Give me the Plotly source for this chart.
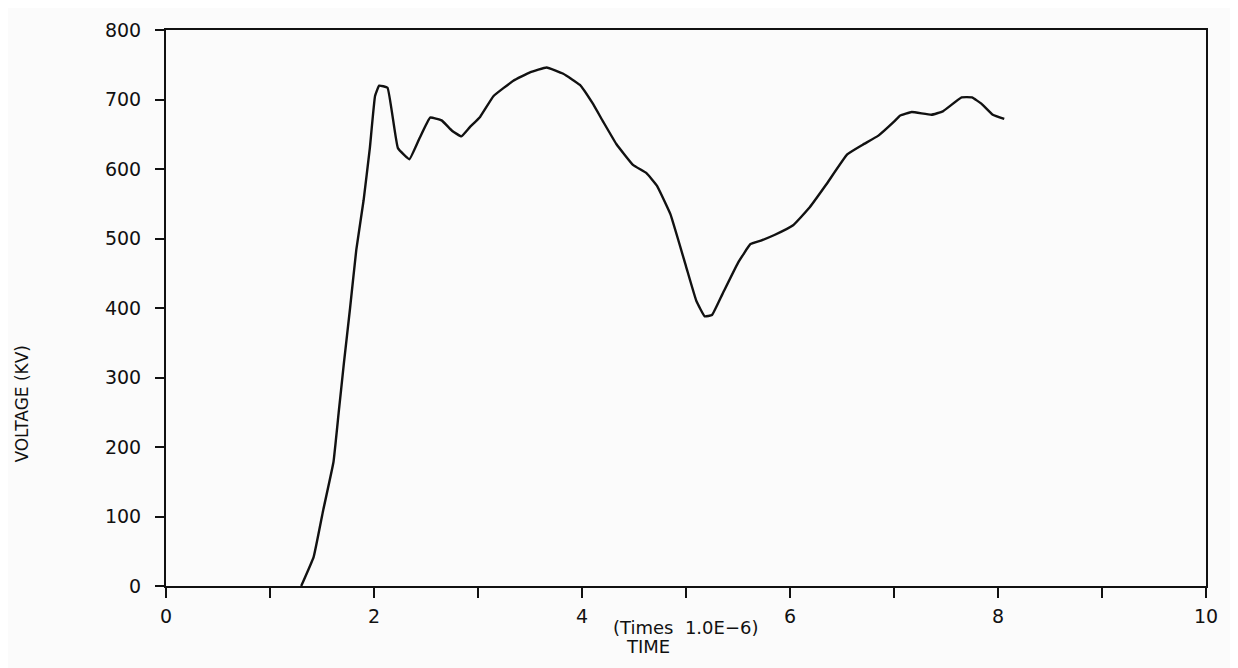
import plotly.graph_objects as go

# Time in units of 1.0E-6 s, voltage in kV
time_us = [1.30, 1.42, 1.51, 1.61, 1.66, 1.71, 1.77, 1.83, 1.90, 1.96, 2.01,
           2.05, 2.13, 2.23, 2.34, 2.44, 2.54, 2.65, 2.75, 2.84, 2.92, 3.02, 3.15,
           3.34, 3.50, 3.66, 3.82, 3.98, 4.10, 4.20, 4.33, 4.49, 4.62, 4.72, 4.85,
           5.00, 5.10, 5.18, 5.25, 5.35, 5.50, 5.62, 5.72, 5.85, 6.03, 6.19, 6.35,
           6.55, 6.70, 6.85, 7.00, 7.06, 7.17, 7.36, 7.47, 7.65, 7.75, 7.84, 7.95, 8.06]
voltage_kv = [0, 42, 108, 178, 249, 320, 400, 484, 555, 630, 705,
              720, 717, 630, 614, 645, 674, 670, 655, 647, 660, 675, 705,
              727, 739, 746, 737, 721, 695, 669, 636, 606, 594, 576, 535,
              460, 410, 388, 390, 420, 465, 492, 497, 505, 519, 545, 578,
              621, 635, 648, 668, 677, 682, 678, 683, 703, 703, 694, 678, 672]

x_tick_vals = [0, 1, 2, 3, 4, 5, 6, 7, 8, 9, 10]
x_tick_text = ["0", "", "2", "", "4", "", "6", "", "8", "", "10"]
y_tick_vals = [0, 100, 200, 300, 400, 500, 600, 700, 800]

font_family = "DejaVu Sans"
ink = "#111111"
paper = "#fbfbfb"

# page is offset by the 8px body margin; targets below are in page pixels
PL, PR, PT, PB = 166, 1206, 19, 586
OFF = 8
W, H = 1238, 668


def px_x(p):
    return (p - PL) / (PR - PL)


def px_y(q):
    return (PB - q) / (PB - PT)


fig = go.Figure()
fig.add_trace(go.Scatter(
    x=time_us, y=voltage_kv, mode="lines",
    line=dict(color=ink, width=2.4, shape="spline", smoothing=0.3),
    showlegend=False, hoverinfo="x+y",
))

fig.update_layout(
    width=W, height=H,
    margin=dict(l=PL - OFF, r=W - (PR - OFF), t=PT - OFF, b=H - (PB - OFF)),
    paper_bgcolor=paper, plot_bgcolor=paper,
    font=dict(family=font_family, size=19, color=ink),
    xaxis=dict(
        range=[0, 10], tickmode="array", tickvals=x_tick_vals, ticktext=x_tick_text,
        ticks="outside", ticklen=10, tickwidth=2, tickcolor=ink,
        showline=True, linecolor=ink, linewidth=2, mirror=True,
        showgrid=False, zeroline=False, ticklabelstandoff=2,
        tickfont=dict(family=font_family, size=19, color=ink),
    ),
    yaxis=dict(
        range=[0, 800], tickmode="array", tickvals=y_tick_vals,
        ticks="outside", ticklen=9, tickwidth=2, tickcolor=ink,
        showline=True, linecolor=ink, linewidth=2, mirror=True,
        showgrid=False, zeroline=False, ticklabelstandoff=10,
        ticklabeloverflow="allow",
        tickfont=dict(family=font_family, size=19, color=ink),
    ),
    annotations=[
        dict(text="(Times\u00a0\u00a01.0E\u22126)", xref="paper", yref="paper",
             x=px_x(685), y=px_y(628), showarrow=False, xanchor="center", yanchor="middle",
             font=dict(family=font_family, size=18, color=ink)),
        dict(text="TIME", xref="paper", yref="paper", x=px_x(648), y=px_y(648),
             showarrow=False, xanchor="center", yanchor="middle",
             font=dict(family=font_family, size=18, color=ink)),
        dict(text="VOLTAGE (KV)", xref="paper", yref="paper", x=px_x(22), y=px_y(400),
             textangle=-90, showarrow=False, xanchor="center", yanchor="middle",
             font=dict(family=font_family, size=17, color=ink)),
    ],
)

fig.write_html("out.html")
